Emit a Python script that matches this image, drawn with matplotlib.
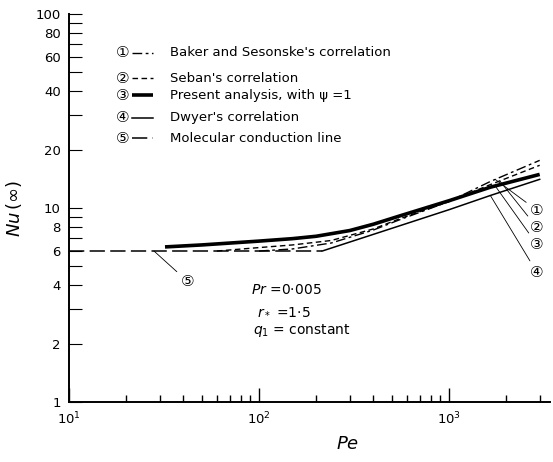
import numpy as np
import matplotlib
matplotlib.use('Agg')
import matplotlib.pyplot as plt
from matplotlib.ticker import FixedLocator, NullFormatter

# values (Pe, Nu)
baker_pe = [100, 150, 240, 400, 550, 1000, 1650, 3000]
baker_nu = [6.0, 6.15, 6.6, 7.7, 8.7, 10.8, 13.7, 17.6]
seban_pe = [60, 100, 150, 240, 400, 550, 1000, 1650, 3000]
seban_nu = [6.0, 6.25, 6.45, 6.8, 7.8, 8.8, 10.8, 13.2, 16.6]
present_pe = [32, 50, 100, 150, 200, 300, 400, 550, 1000, 1650, 3000]
present_nu = [6.3, 6.45, 6.75, 6.95, 7.15, 7.65, 8.25, 9.1, 10.9, 12.8, 14.9]
dwyer_pe = [215, 1000, 1650, 3000]
dwyer_nu = [6.0, 9.8, 11.6, 14.05]
molecular_pe = [10, 215]
molecular_nu = [6.0, 6.0]

legend_labels = ["Baker and Sesonske's correlation", "Seban's correlation",
                 "Present analysis, with \u03c8 =1", "Dwyer's correlation",
                 "Molecular conduction line"]
circled = ['\u2460', '\u2461', '\u2462', '\u2463', '\u2464']

y_major = [1, 2, 4, 6, 8, 10, 20, 40, 60, 80, 100]
y_minor = [3, 5, 7, 9, 30, 50, 70, 90]
x_minor = [20, 30, 40, 50, 60, 70, 80, 90, 200, 300, 400, 500, 600, 700, 800, 900,
           2000, 3000]

styles = [
    dict(color='black', lw=1.0, dashes=(7, 2.5, 2, 2.5)),
    dict(color='black', lw=1.0, dashes=(4, 2.5)),
    dict(color='black', lw=2.6, solid_capstyle='butt'),
    dict(color='black', lw=1.1),
    dict(color='black', lw=1.1, dashes=(10, 3.5)),
]

fig = plt.figure(figsize=(5.53, 4.62), dpi=100)
ax = fig.add_axes([0.1248, 0.1299, 0.8698, 0.8398])
ax.set_xscale('log')
ax.set_yscale('log')
ax.set_xlim(10, 3400)
ax.set_ylim(1, 100)

series = [(baker_pe, baker_nu), (seban_pe, seban_nu), (present_pe, present_nu),
          (dwyer_pe, dwyer_nu), (molecular_pe, molecular_nu)]
for (pe, nu), st in zip(series, styles):
    ax.plot(pe, nu, **st)

for s in ('top', 'right'):
    ax.spines[s].set_visible(False)
for s in ('left', 'bottom'):
    ax.spines[s].set_linewidth(1.4)

ax.yaxis.set_major_locator(FixedLocator(y_major))
ax.yaxis.set_minor_locator(FixedLocator(y_minor))
ax.set_yticklabels([str(v) for v in y_major])
ax.yaxis.set_minor_formatter(NullFormatter())
ax.xaxis.set_minor_locator(FixedLocator(x_minor))
ax.xaxis.set_minor_formatter(NullFormatter())
ax.tick_params(axis='y', which='both', direction='in', length=9, width=0.8,
               labelsize=9.5, pad=6)
ax.tick_params(axis='x', which='major', direction='in', length=10, width=1.0,
               labelsize=9.5, pad=6)
ax.tick_params(axis='x', which='minor', direction='in', length=5, width=1.0)

ax.set_ylabel(r'$\mathit{Nu}\,(\infty)$', fontsize=13, labelpad=8)
ax.set_xlabel(r'$Pe$', fontsize=13)
ax.xaxis.set_label_coords((348 - 69) / 481, -0.085)

# legend drawn by hand: number, line sample, text
rows = [0.8995, 0.835, 0.791, 0.732, 0.680]
for y, num, lab, st in zip(rows, circled, legend_labels, styles):
    ax.text(0.112, y, num, transform=ax.transAxes, ha='center', va='center', fontsize=11)
    ax.plot([0.131, 0.175], [y, y], transform=ax.transAxes, **st)
    ax.text(0.21, y, lab, transform=ax.transAxes, ha='left', va='center', fontsize=9.5)

# parameters
params = ['$Pr$ =0\u00b7005', '$r_*$ =1\u00b75', '$q_1$ = constant']
param_y = [0.289, 0.235, 0.183]
param_x = [0.378, 0.39, 0.382]
for x, y, t in zip(param_x, param_y, params):
    ax.text(x, y, t, transform=ax.transAxes, ha='left', va='center', fontsize=10)


def on_curve(pe, nu, at):
    return 10 ** np.interp(np.log10(at), np.log10(pe), np.log10(nu))


leader_at = [1750, 1850, 1750, 1650]
label_nu = [9.73, 7.94, 6.49, 4.66]
for (pe, nu), at, ly, num in zip(series[:4], leader_at, label_nu, circled):
    ax.annotate(num, xy=(at, on_curve(pe, nu, at)), xytext=(2900, ly),
                ha='center', va='center', fontsize=11,
                arrowprops=dict(arrowstyle='-', lw=0.6, color='black',
                                shrinkA=1, shrinkB=0))
ax.annotate(circled[4], xy=(28, 6.0), xytext=(42, 4.19), ha='center', va='center',
            fontsize=11, arrowprops=dict(arrowstyle='-', lw=0.6, color='black',
                                         shrinkA=1, shrinkB=0))

fig.savefig('out.png', dpi=100)
